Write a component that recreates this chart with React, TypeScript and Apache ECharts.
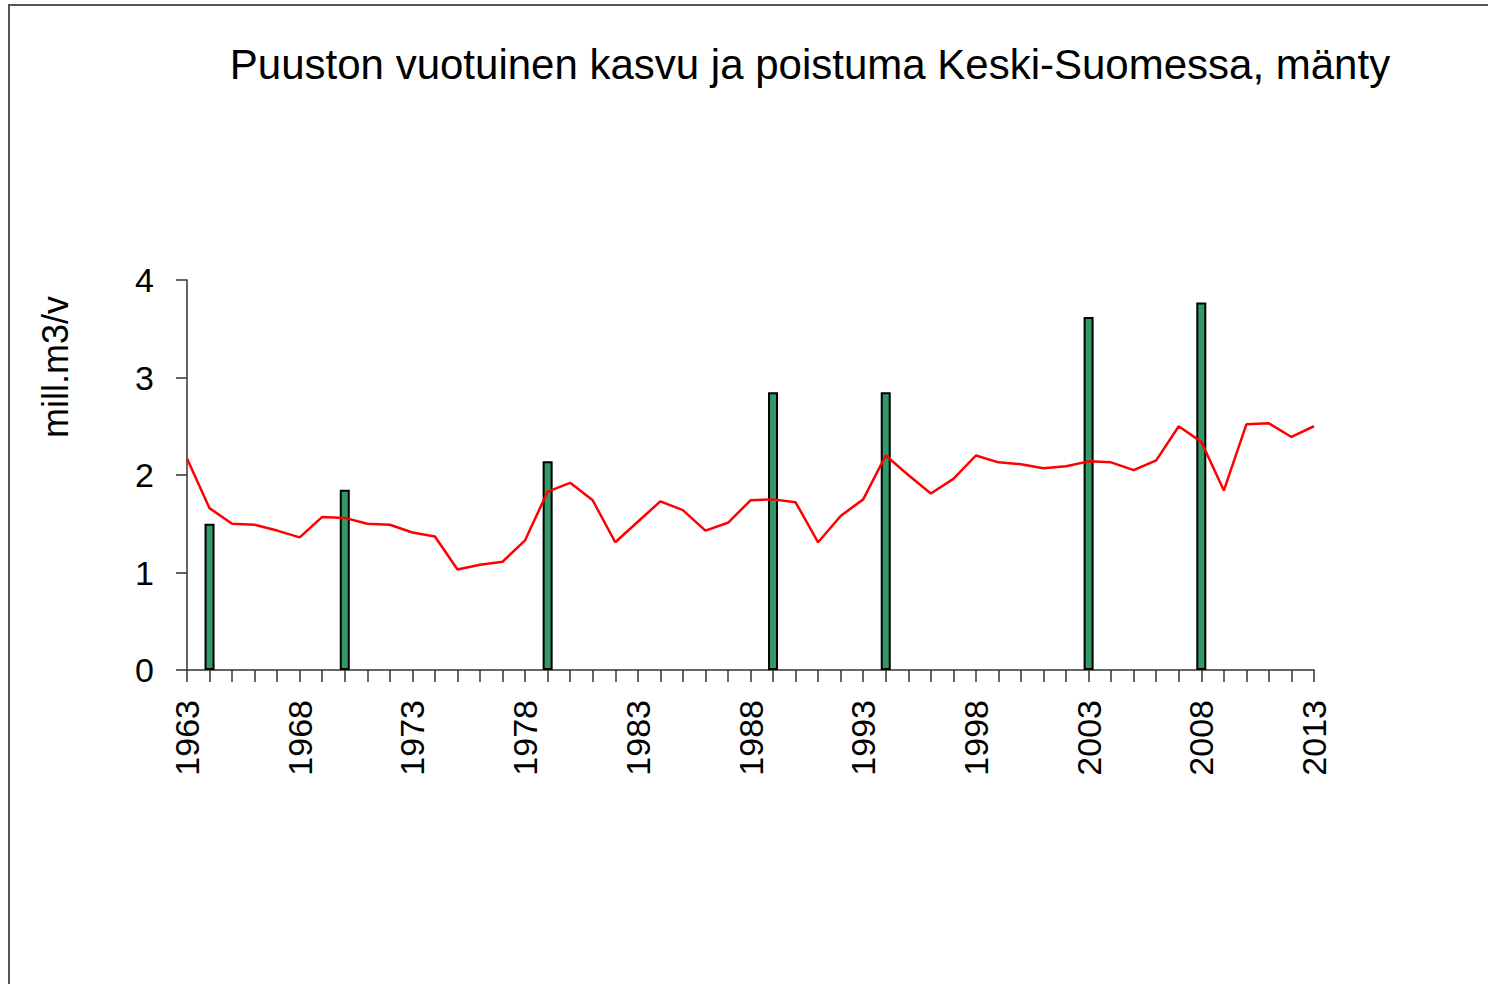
import React, { useEffect, useRef } from "react";
import * as echarts from "echarts";

const years: string[] = [];
for (let y = 1963; y <= 2013; y++) years.push(String(y));

// Annual increment (red line), mill. m3/v
const kasvu: number[] = [
  2.17, 1.66, 1.50, 1.49, 1.43, 1.36, 1.57, 1.56, 1.50, 1.49,
  1.41, 1.37, 1.03, 1.08, 1.11, 1.33, 1.83, 1.92, 1.74, 1.31,
  1.52, 1.73, 1.64, 1.43, 1.51, 1.74, 1.75, 1.72, 1.31, 1.58,
  1.75, 2.20, 2.00, 1.81, 1.96, 2.20, 2.13, 2.11, 2.07, 2.09,
  2.14, 2.13, 2.05, 2.15, 2.50, 2.34, 1.84, 2.52, 2.53, 2.39,
  2.50,
];

// Drain (green bars) at inventory years
const poistumaYears: string[] = ["1964", "1970", "1979", "1989", "1994", "2003", "2008"];
const poistumaValues: number[] = [1.50, 1.85, 2.14, 2.85, 2.85, 3.62, 3.77];

const titleText = "Puuston vuotuinen kasvu ja poistuma Keski-Suomessa, mänty";
const yAxisName = "mill.m3/v";

export default function App() {
  const ref = useRef<HTMLDivElement>(null);
  useEffect(() => {
    if (!ref.current) return;
    const chart = echarts.init(ref.current, null, { renderer: "svg" });
    const barData = years.map((y) => {
      const i = poistumaYears.indexOf(y);
      return i >= 0 ? poistumaValues[i] : null;
    });
    const font = "Liberation Sans, Arial, sans-serif";
    chart.setOption({
      animation: false,
      backgroundColor: "#ffffff",
      textStyle: { fontFamily: font },
      title: {
        text: titleText,
        left: 805,
        top: 38,
        textAlign: "center",
        textStyle: { fontFamily: font, fontSize: 42, fontWeight: "normal", color: "#000" },
      },
      graphic: [
        {
          type: "rect",
          shape: { x: 9, y: 5, width: 1700, height: 1200 },
          style: { fill: "none", stroke: "#555", lineWidth: 2 },
          silent: true,
        },
        {
          type: "text",
          x: 55,
          y: 367,
          rotation: Math.PI / 2,
          style: {
            text: yAxisName,
            font: "36px Liberation Sans, Arial, sans-serif",
            fill: "#000",
            textAlign: "center",
            textVerticalAlign: "middle",
          },
        },
      ],
      grid: { left: 187, right: 174, top: 280, bottom: 314, containLabel: false },
      xAxis: {
        type: "category",
        data: years,
        boundaryGap: false,
        axisLine: { show: true, lineStyle: { color: "#333", width: 1.5 } },
        axisTick: { show: true, interval: 0, length: 12, lineStyle: { color: "#333", width: 1.5 } },
        axisLabel: {
          interval: 4,
          rotate: 90,
          margin: 30,
          fontSize: 34,
          color: "#000",
          fontFamily: font,
        },
        splitLine: { show: false },
      },
      yAxis: {
        type: "value",
        min: 0,
        max: 4,
        interval: 1,
        axisLine: { show: true, lineStyle: { color: "#333", width: 1.5 } },
        axisTick: { show: true, length: 11, lineStyle: { color: "#333", width: 1.5 } },
        axisLabel: { fontSize: 34, color: "#000", margin: 33, fontFamily: font },
        splitLine: { show: false },
      },
      series: [
        {
          name: "poistuma",
          type: "bar",
          data: barData,
          barWidth: 10,
          itemStyle: { color: "#339966", borderColor: "#000", borderWidth: 2 },
        },
        {
          name: "kasvu",
          type: "line",
          data: kasvu,
          symbol: "none",
          lineStyle: { color: "#ff0000", width: 2.5 },
          z: 5,
        },
      ],
    });
    return () => chart.dispose();
  }, []);
  return (
    <div
      ref={ref}
      style={{ position: "fixed", left: 0, top: 0, width: 1488, height: 984 }}
    />
  );
}
